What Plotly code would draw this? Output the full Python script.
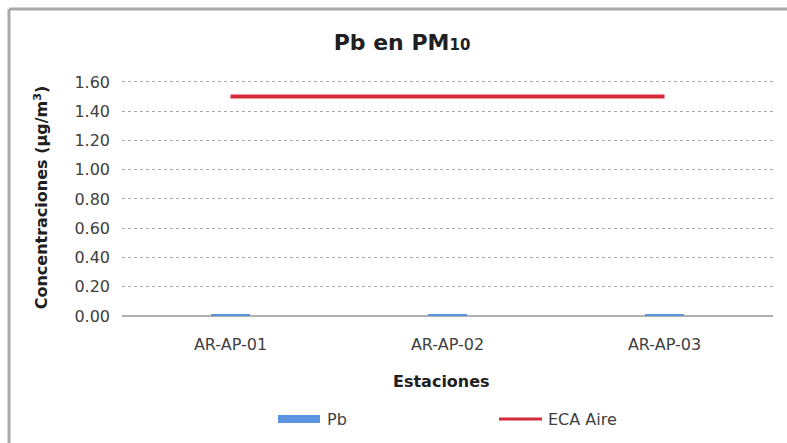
import plotly.graph_objects as go

# Stations and measured lead concentrations (µg/m³)
estaciones = ["AR-AP-01", "AR-AP-02", "AR-AP-03"]
pb_valores = [0.012, 0.012, 0.012]
eca_aire = [1.5, 1.5, 1.5]
y_ticks = [0.0, 0.2, 0.4, 0.6, 0.8, 1.0, 1.2, 1.4, 1.6]
y_tick_labels = ["0.00", "0.20", "0.40", "0.60", "0.80", "1.00", "1.20", "1.40", "1.60"]

W, H = 787, 443
L, R, T, B = 122, 14, 79, 127
pw, ph = W - L - R, H - T - B

def px_x(p):
    return (p - L) / pw

def px_y(p):
    return (H - B - p) / ph

font_main = "DejaVu Sans, Verdana, sans-serif"
bar_color = "#5b95e0"
eca_color = "#d22a36"
text_color = "#404040"
title_color = "#202020"

fig = go.Figure()
fig.add_trace(go.Bar(
    x=estaciones, y=pb_valores, name="Pb",
    marker=dict(color=bar_color, line=dict(width=0)),
    width=0.18, showlegend=False,
))
fig.add_trace(go.Scatter(
    x=estaciones, y=eca_aire, name="ECA Aire", mode="lines",
    line=dict(color=eca_color, width=4), showlegend=False,
))

# legend drawn as keys + labels below the axis title
legend_y = px_y(419)
shapes = [
    dict(type="rect", xref="paper", yref="paper",
         x0=px_x(278), x1=px_x(320), y0=px_y(423), y1=px_y(415),
         fillcolor=bar_color, line=dict(width=0)),
    dict(type="line", xref="paper", yref="paper",
         x0=px_x(499), x1=px_x(542), y0=legend_y, y1=legend_y,
         line=dict(color=eca_color, width=3)),
    # top and left edges of the chart frame
    dict(type="line", xref="paper", yref="paper",
         x0=px_x(9), x1=px_x(787), y0=px_y(9), y1=px_y(9),
         line=dict(color="#a8a8a8", width=3)),
    dict(type="line", xref="paper", yref="paper",
         x0=px_x(9), x1=px_x(9), y0=px_y(9), y1=px_y(443),
         line=dict(color="#a8a8a8", width=3)),
]
annotations = [
    dict(text="Pb", xref="paper", yref="paper", x=px_x(325), y=legend_y,
         xanchor="left", yanchor="middle", showarrow=False,
         font=dict(size=16, color=text_color)),
    dict(text="ECA Aire", xref="paper", yref="paper", x=px_x(546), y=legend_y,
         xanchor="left", yanchor="middle", showarrow=False,
         font=dict(size=16, color=text_color)),
    dict(text="<b>Estaciones</b>", xref="paper", yref="paper", x=px_x(441), y=px_y(381),
         xanchor="center", yanchor="middle", showarrow=False,
         font=dict(size=16, color=title_color)),
]

fig.update_layout(
    width=W, height=H,
    margin=dict(l=L, r=R, t=T, b=B),
    paper_bgcolor="white", plot_bgcolor="white",
    font=dict(family=font_main, color=text_color, size=16),
    title=dict(
        text="<b>Pb en PM<span style='font-size:15px'>10</span></b>",
        x=402 / W, xanchor="center", y=1 - 42 / H, yanchor="middle",
        font=dict(size=22, color=title_color, family=font_main),
    ),
    showlegend=False,
    xaxis=dict(
        range=[-0.5, 2.5],
        showgrid=False, showline=False, ticks="",
        ticklabelstandoff=17,
        tickfont=dict(size=16, color=text_color),
    ),
    yaxis=dict(
        range=[0, 1.62], tickvals=y_ticks, ticktext=y_tick_labels,
        showgrid=True, gridcolor="#a8a8a8", griddash="dot", gridwidth=1,
        zeroline=True, zerolinecolor="#b0b0b0", zerolinewidth=1.5,
        showline=False, ticks="", ticklabelstandoff=11,
        tickfont=dict(size=16, color=text_color),
        title=dict(text="<b>Concentraciones (µg/m<sup>3</sup>)</b>",
                   font=dict(size=16, color=title_color), standoff=22),
    ),
    shapes=shapes,
    annotations=annotations,
)

fig.write_html("out.html")
